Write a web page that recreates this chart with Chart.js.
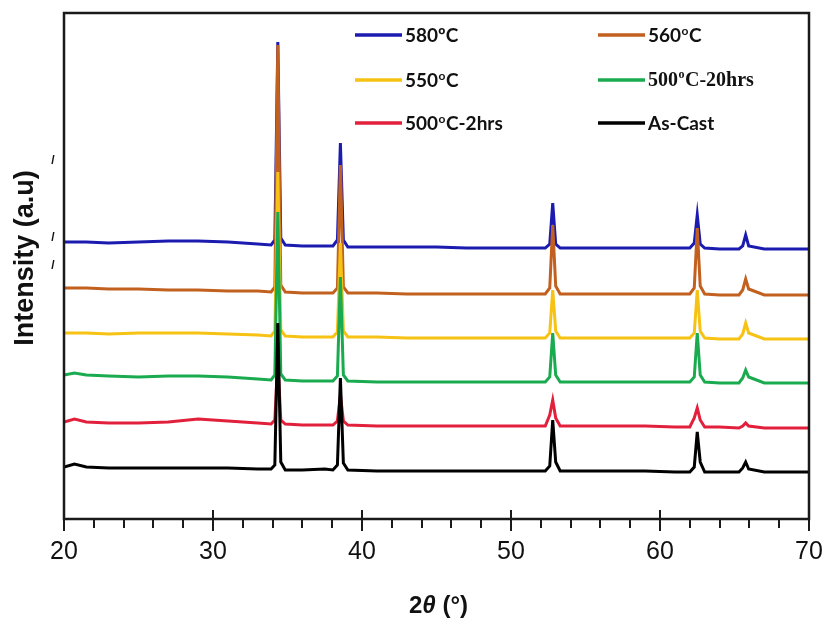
<!DOCTYPE html>
<html><head><meta charset="utf-8">
<script src="https://cdn.jsdelivr.net/npm/chart.js@4.4.1/dist/chart.umd.min.js"></script>
<style>html,body{margin:0;padding:0;background:#fff;}canvas{display:block;}</style>
</head><body>
<canvas id="c" width="825" height="619"></canvas>
<script>
// 2θ positions (degrees)
const twoTheta = [20, 20.7, 21.5, 23, 25, 27, 29, 31, 33, 33.9, 34.15, 34.35, 34.55, 34.85, 36, 37.5, 38.05, 38.35, 38.55, 38.75, 39.05, 41, 43, 45, 47, 49, 51, 52.3, 52.6, 52.8, 53.0, 53.3, 55, 57, 59, 61, 62.0, 62.3, 62.5, 62.7, 63.0, 64, 65.3, 65.55, 65.75, 65.95, 67, 68.5, 70];

// Intensities (a.u., stacked offsets as plotted)
const int580 = [277,277,277,276,277,278,278,277,275,274,279,477,281,274,273,273,273,279,376,279,272,272,272,272,271,271,271,271,275,316,275,271,271,271,271,271,271,276,304,275,271,270,270,273,284,273,270,270,270];
const int560 = [231,231,231,230,230,229,229,228,228,227,232,474,234,227,226,226,226,231,354,232,226,226,225,225,225,225,225,225,231,294,233,225,225,225,225,225,225,231,291,233,225,224,224,229,240,230,224,224,224];
const int550 = [186,186,186,185,186,186,186,185,184,183,188,347,189,183,182,182,182,187,276,188,182,182,181,181,181,181,181,181,186,229,188,181,181,181,181,181,181,186,229,188,181,180,180,185,196,186,180,180,180];
const int500_20h = [144,146,144,143,142,143,143,142,140,139,144,307,145,139,138,138,138,143,242,144,138,137,137,137,137,137,137,137,142,186,144,137,137,137,137,137,137,142,186,144,137,136,136,141,149,142,136,136,136];
const int500_2h = [97,100,97,96,96,97,100,98,96,95,99,159,99,95,94,94,94,98,124,98,94,93,93,93,93,93,93,93,104,119,101,93,93,93,93,92,92,101,111,99,92,92,91,93,96,93,91,91,91];
const intAsCast = [52,55,52,51,51,51,51,51,50,50,54,196,57,49,49,50,49,54,141,56,49,48,48,48,48,48,48,48,53,99,57,48,48,48,48,47,47,52,87,57,47,47,47,51,57,50,47,47,47];

const seriesLabels = ['580ºC', '560ºC', '550ºC', '500ºC-20hrs', '500ºC-2hrs', 'As-Cast'];
const seriesColors = ['#1b1bb0', '#c2611f', '#f6c214', '#1aab50', '#e2203c', '#000000'];
const xTickValues = [20, 30, 40, 50, 60, 70];
const xMinorStep = 2;
const xTitleParts = ['2', 'θ', ' (°)'];
const yTitle = 'Intensity (a.u)';

const allSeries = [int580, int560, int550, int500_20h, int500_2h, intAsCast];

const datasets = allSeries.map((vals, i) => ({
  label: seriesLabels[i],
  data: twoTheta.map((x, j) => ({x: x, y: vals[j]})),
  borderColor: seriesColors[i],
  backgroundColor: seriesColors[i],
  borderWidth: 3,
  pointRadius: 0,
  tension: 0,
  fill: false,
  order: allSeries.length - 1 - i
}));

function drawLabel(ctx, text, x, y, idx) {
  const serif = text.indexOf('20hrs') >= 0;
  const fam = serif ? '"Liberation Serif", "Times New Roman", serif' : 'Lato, "Liberation Sans", Arial, sans-serif';
  const size = serif ? 20 : 19;
  ctx.textBaseline = 'middle';
  ctx.textAlign = 'left';
  ctx.fillStyle = '#111';
  ctx.font = 'bold ' + size + 'px ' + fam;
  if (idx === 0 || text.indexOf('º') < 0) {
    ctx.fillText(text, x, y);
    return;
  }
  const parts = text.split('º');
  ctx.fillText(parts[0], x, y);
  let cx = x + ctx.measureText(parts[0]).width + 0.5;
  ctx.font = 'bold ' + Math.round(size * 0.62) + 'px ' + fam;
  ctx.fillText('o', cx, y - size * 0.28);
  cx += ctx.measureText('o').width + 0.5;
  ctx.font = 'bold ' + size + 'px ' + fam;
  ctx.fillText(parts[1], cx, y);
}

const deco = {
  id: 'deco',
  afterDraw(chart) {
    const ctx = chart.ctx, a = chart.chartArea, xs = chart.scales.x;
    ctx.save();
    // frame
    ctx.strokeStyle = '#1a1a1a';
    ctx.lineWidth = 2.5;
    ctx.beginPath();
    ctx.moveTo(a.left, a.bottom); ctx.lineTo(a.left, a.top);
    ctx.lineTo(a.right, a.top); ctx.lineTo(a.right, a.bottom);
    ctx.closePath();
    ctx.stroke();
    // ticks
    ctx.lineWidth = 2;
    for (let v = xs.min; v <= xs.max + 1e-9; v += xMinorStep) {
      const px = Math.round(xs.getPixelForValue(v));
      const major = xTickValues.includes(Math.round(v));
      ctx.beginPath();
      ctx.moveTo(px, major ? a.bottom - 9 : a.bottom);
      ctx.lineTo(px, a.bottom + (major ? 12 : 9));
      ctx.stroke();
    }
    // legend
    const colX = [355, 598], rowY = [35, 80, 123];
    chart.data.datasets.forEach((ds, i) => {
      const cx = colX[i % 2], cy = rowY[Math.floor(i / 2)];
      ctx.strokeStyle = ds.borderColor;
      ctx.lineWidth = 3.5;
      ctx.beginPath(); ctx.moveTo(cx, cy); ctx.lineTo(cx + 47, cy); ctx.stroke();
      drawLabel(ctx, ds.label, cx + 50, cy + 1, i);
    });
    // x title
    ctx.fillStyle = '#111';
    ctx.textBaseline = 'middle';
    ctx.textAlign = 'left';
    const fonts = ['bold 24px "Liberation Sans", Arial, sans-serif', 'bold italic 24px "Liberation Sans", Arial, sans-serif', 'bold 24px "Liberation Sans", Arial, sans-serif'];
    let tw = 0;
    xTitleParts.forEach((p, i) => { ctx.font = fonts[i]; tw += ctx.measureText(p).width; });
    let tx = (a.left + a.right) / 2 + 2 - tw / 2;
    xTitleParts.forEach((p, i) => { ctx.font = fonts[i]; ctx.fillText(p, tx, 606); tx += ctx.measureText(p).width; });
    // y title
    ctx.save();
    ctx.translate(26, 258);
    ctx.rotate(-Math.PI / 2);
    ctx.textAlign = 'center';
    ctx.font = 'bold 27px "Liberation Sans", Arial, sans-serif';
    ctx.fillStyle = '#111';
    ctx.fillText(yTitle, 0, 0);
    ctx.restore();
    // stray marks left of axis
    ctx.font = 'bold 12px "Liberation Sans", Arial, sans-serif';
    ctx.textAlign = 'center';
    ctx.textBaseline = 'middle';
    ['/', '/', '/'].forEach((m, i) => ctx.fillText(m, 53, [161, 238, 266][i]));
    ctx.restore();
  }
};

new Chart(document.getElementById('c'), {
  type: 'line',
  data: { datasets: datasets },
  options: {
    responsive: false,
    animation: false,
    devicePixelRatio: 1,
    layout: { padding: { left: 64, right: 16, top: 13, bottom: 0 } },
    plugins: { legend: { display: false }, tooltip: { enabled: false } },
    scales: {
      x: {
        type: 'linear', min: 20, max: 70,
        afterFit(s) { s.height = 100; s.paddingLeft = 0; s.paddingRight = 0; },
        afterBuildTicks(s) { s.ticks = xTickValues.map(v => ({ value: v })); },
        grid: { display: false, drawTicks: false },
        border: { display: false },
        ticks: {
          font: { family: '"Liberation Sans", Arial, sans-serif', size: 25 },
          color: '#111', padding: 18, maxRotation: 0, autoSkip: false,
          callback: v => String(v)
        }
      },
      y: { display: false, min: 0, max: 506 }
    }
  },
  plugins: [deco]
});
</script>
</body></html>
